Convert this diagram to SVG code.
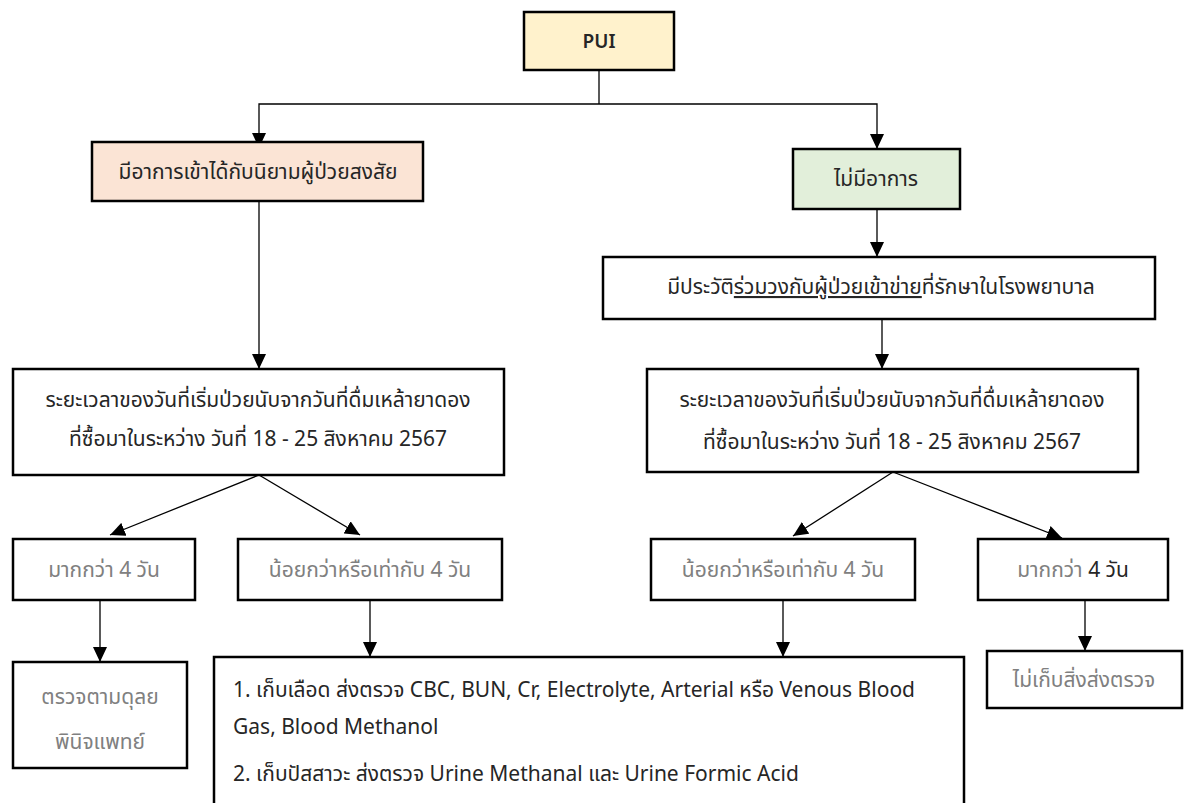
<svg xmlns="http://www.w3.org/2000/svg" width="1184" height="803" viewBox="0 0 1184 803">
<defs>
<marker id="ah" markerUnits="userSpaceOnUse" markerWidth="15" markerHeight="14" viewBox="0 0 15 14" refX="15" refY="7" orient="auto">
<path d="M0,0 L15,7 L0,14 Z" fill="#000"/>
</marker>
</defs>
<style>
.box{stroke:#000;stroke-width:2.5;fill:#fff}
.t{font-family:"Noto Sans Thai","Noto Sans","DejaVu Sans",sans-serif;font-size:21px;fill:#262626}
.g{fill:#808080}
.c{text-anchor:middle}
.ln{stroke:#000;stroke-width:1.3;fill:none}
.ar{marker-end:url(#ah)}
</style>
<rect width="1184" height="803" fill="#fff"/>
<g id="connectors">
<path class="ln" d="M599,70 V104"/>
<path class="ln ar" d="M599,104 H259 V148"/>
<path class="ln ar" d="M599,104 H877 V149"/>
<path class="ln ar" d="M259,201 V369"/>
<path class="ln ar" d="M877,209 V257"/>
<path class="ln ar" d="M882,319 V369"/>
<path class="ln ar" d="M259,475 L110,535"/>
<path class="ln ar" d="M259,475 L360,535"/>
<path class="ln ar" d="M893,472 L793,536"/>
<path class="ln ar" d="M893,472 L1062,538"/>
<path class="ln ar" d="M100,600 V662"/>
<path class="ln ar" d="M370,600 V657"/>
<path class="ln ar" d="M783,600 V657"/>
<path class="ln ar" d="M1085,600 V651"/>
</g>
<g id="pui">
<rect class="box" x="524" y="12" width="150" height="58" style="fill:#FFF2CC"/>
<text class="t c" x="599" y="48" style="font-weight:600;font-size:19px">PUI</text>
</g>
<g id="suspect">
<rect class="box" x="92" y="142" width="331" height="59" style="fill:#FBE4D5"/>
<text class="t c" x="258" y="179">มีอาการเข้าได้กับนิยามผู้ป่วยสงสัย</text>
</g>
<g id="nosymptom">
<rect class="box" x="793" y="149" width="167" height="60" style="fill:#E2EFDA"/>
<text class="t c" x="876" y="186">ไม่มีอาการ</text>
</g>
<g id="history">
<rect class="box" x="603" y="257" width="552" height="62"/>
<text class="t c" x="881" y="294">มีประวัติ<tspan text-decoration="underline">ร่วมวงกับผู้ป่วยเข้าข่าย</tspan>ที่รักษาในโรงพยาบาล</text>
</g>
<g id="duration-left">
<rect class="box" x="13" y="369" width="491" height="106"/>
<text class="t c" x="258" y="407">ระยะเวลาของวันที่เริ่มป่วยนับจากวันที่ดื่มเหล้ายาดอง</text>
<text class="t c" x="258" y="446">ที่ซื้อมาในระหว่าง วันที่ 18 - 25 สิงหาคม 2567</text>
</g>
<g id="duration-right">
<rect class="box" x="647" y="369" width="491" height="103"/>
<text class="t c" x="892" y="407">ระยะเวลาของวันที่เริ่มป่วยนับจากวันที่ดื่มเหล้ายาดอง</text>
<text class="t c" x="892" y="449">ที่ซื้อมาในระหว่าง วันที่ 18 - 25 สิงหาคม 2567</text>
</g>
<g id="more-left">
<rect class="box" x="13" y="539" width="182" height="61"/>
<text class="t g c" x="104" y="577">มากกว่า 4 วัน</text>
</g>
<g id="less-left">
<rect class="box" x="238" y="539" width="264" height="61"/>
<text class="t g c" x="370" y="577">น้อยกว่าหรือเท่ากับ 4 วัน</text>
</g>
<g id="less-right">
<rect class="box" x="651" y="539" width="264" height="61"/>
<text class="t g c" x="783" y="577">น้อยกว่าหรือเท่ากับ 4 วัน</text>
</g>
<g id="more-right">
<rect class="box" x="978" y="539" width="190" height="61"/>
<text class="t c" x="1073" y="577"><tspan class="g">มากกว่า </tspan>4 วัน</text>
</g>
<g id="doctor">
<rect class="box" x="13" y="662" width="174" height="106"/>
<text class="t g c" x="100" y="704">ตรวจตามดุลย</text>
<text class="t g c" x="100" y="749">พินิจแพทย์</text>
</g>
<g id="collect">
<rect class="box" x="214" y="657" width="750" height="160"/>
<text class="t" x="233" y="697">1. เก็บเลือด ส่งตรวจ CBC, BUN, Cr, Electrolyte, Arterial หรือ Venous Blood</text>
<text class="t" x="233" y="734">Gas, Blood Methanol</text>
<text class="t" x="233" y="781">2. เก็บปัสสาวะ ส่งตรวจ Urine Methanal และ Urine Formic Acid</text>
</g>
<g id="nocollect">
<rect class="box" x="987" y="651" width="195" height="57"/>
<text class="t g c" x="1084" y="687">ไม่เก็บสิ่งส่งตรวจ</text>
</g>
</svg>
